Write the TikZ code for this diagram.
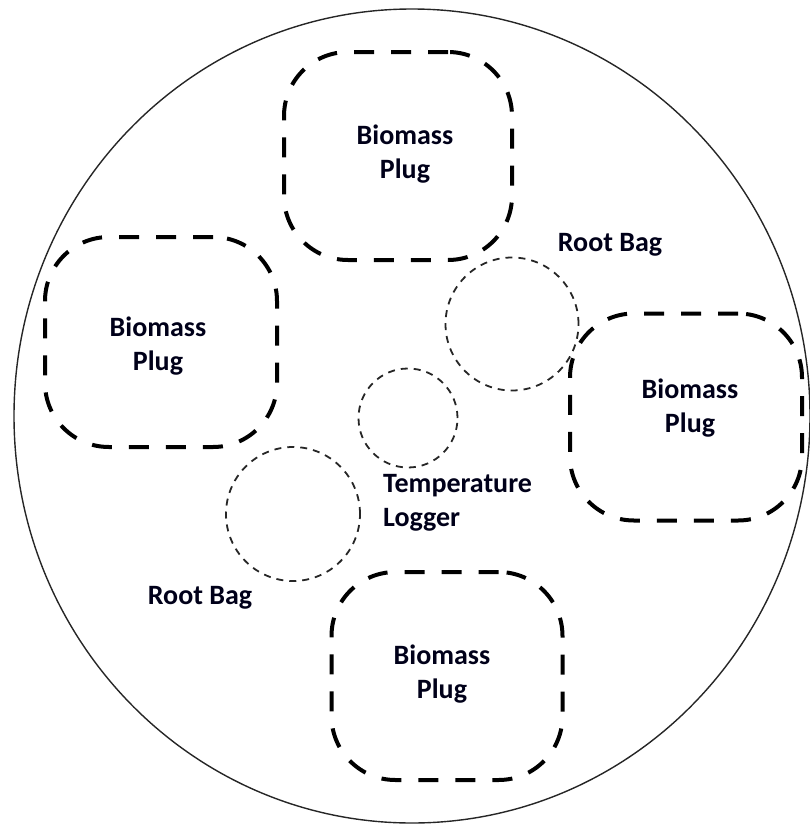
\documentclass[tikz,border=0pt]{standalone}
\usepackage{fontspec}
\setmainfont{Carlito}
\usetikzlibrary{shapes.geometric}
\begin{document}
\begin{tikzpicture}[x=1pt,y=-1pt,
  plugbox/.style={draw=black, line width=4pt, dash pattern=on 20pt off 17pt,
    rectangle, rounded corners=64pt, inner sep=0pt},
  bagring/.style={draw=black!85, line width=1.8pt, dash pattern=on 7pt off 6pt,
    circle, inner sep=0pt},
  lbl/.style={font=\fontsize{28}{34}\selectfont\bfseries, text=black!90!blue,
    inner sep=0pt, align=center}]
  \useasboundingbox (0,0) rectangle (810,827);
  % vessel outline
  \node[draw=black!85, line width=1.4pt, ellipse, minimum width=796pt,
        minimum height=814pt, inner sep=0pt] (vessel) at (412,416) {};
  % biomass plugs
  \node[plugbox, minimum width=228pt, minimum height=208pt] (plugtop) at (398,156) {};
  \node[plugbox, minimum width=232pt, minimum height=210pt] (plugleft) at (161,342) {};
  \node[plugbox, minimum width=232pt, minimum height=207pt] (plugright) at (686,417) {};
  \node[plugbox, minimum width=231pt, minimum height=208pt] (plugbottom) at (447,676) {};
  \node[lbl] (tplugtop) at (405,154) {Biomass\\Plug};
  \node[lbl] (tplugleft) at (158,346) {Biomass\\Plug};
  \node[lbl] (tplugright) at (690,408) {Biomass\\Plug};
  \node[lbl] (tplugbottom) at (442,674) {Biomass\\Plug};
  % root bags and temperature logger
  \node[bagring, minimum size=133pt] (bagup) at (512,324) {};
  \node[bagring, minimum size=134pt] (baglow) at (293,514) {};
  \node[bagring, minimum size=99pt] (logger) at (408,418) {};
  \node[lbl] (tbagup) at (610,245) {Root Bag};
  \node[lbl] (tbaglow) at (200,598) {Root Bag};
  \node[lbl, align=left, anchor=west] (tlogger) at (383,503) {Temperature\\Logger};
\end{tikzpicture}
\end{document}
